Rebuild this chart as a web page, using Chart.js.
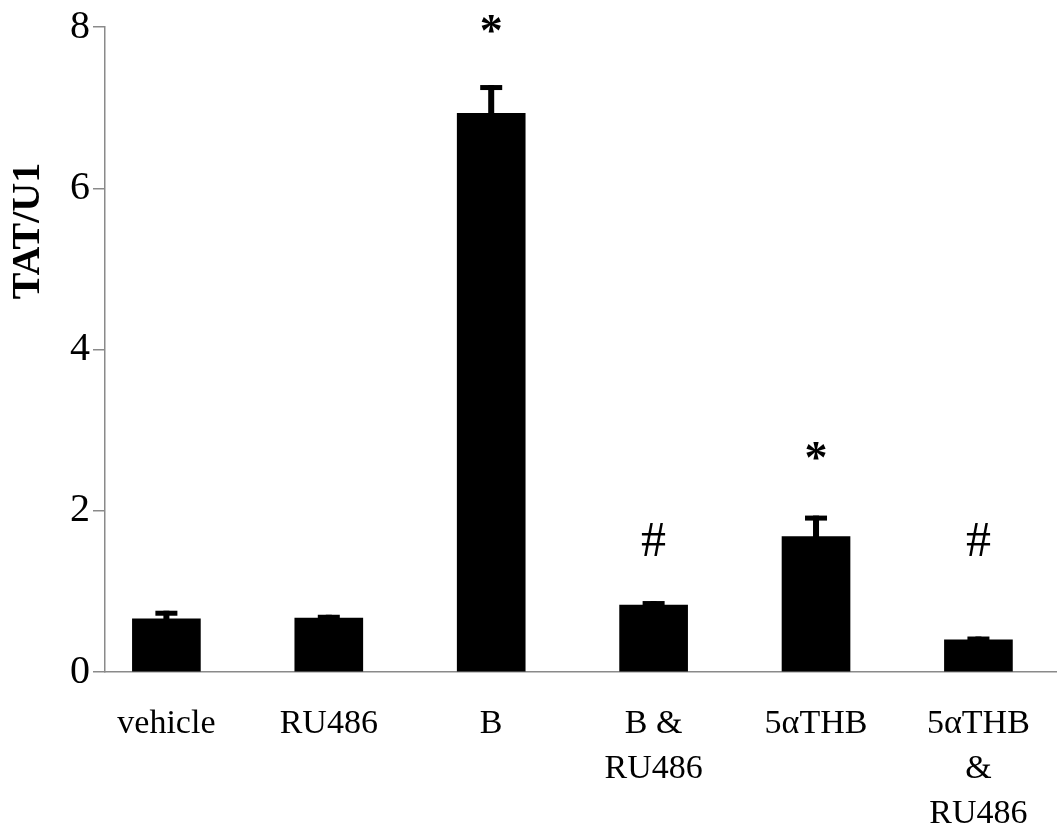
<!DOCTYPE html>
<html>
<head>
<meta charset="utf-8">
<script src="https://cdn.jsdelivr.net/npm/chart.js@4"></script>
<style>
  html, body { margin: 0; padding: 0; background: #fff; }
  #wrap { width: 1060px; height: 828px; position: relative; }
</style>
</head>
<body>
<div id="wrap"><canvas id="c"></canvas></div>
<script>
// ---- data ----
const categories = [
  ['vehicle'],
  ['RU486'],
  ['B'],
  ['B &', 'RU486'],
  ['5\u03B1THB'],
  ['5\u03B1THB', '&', 'RU486']
];
const values = [0.66, 0.67, 6.93, 0.83, 1.68, 0.40];
const errors = [0.10, 0.04, 0.35, 0.05, 0.26, 0.04];
const markers = ['', '', '*', '#', '*', '#'];
const markerValues = [null, null, 8.0, 1.6, 2.7, 1.6];
const yTicks = [0, 2, 4, 6, 8];
const yTitle = 'TAT/U1';

const AXIS = '#8a8a8a';
const SERIF = '"Liberation Serif", "Times New Roman", serif';

const errorBars = {
  id: 'errorBars',
  afterDatasetsDraw(chart) {
    const ctx = chart.ctx;
    const ys = chart.scales.y;
    const meta = chart.getDatasetMeta(0);
    ctx.save();
    ctx.fillStyle = '#000';
    meta.data.forEach((el, i) => {
      const top = ys.getPixelForValue(values[i] + errors[i]);
      const barTop = el.y;
      ctx.fillRect(el.x - 3, top, 6, barTop - top + 1);
      ctx.fillRect(el.x - 11, top, 22, 5);
    });
    ctx.restore();
  }
};

const annotations = {
  id: 'annotations',
  afterDatasetsDraw(chart) {
    const ctx = chart.ctx;
    const ys = chart.scales.y;
    const xs = chart.scales.x;
    ctx.save();
    ctx.fillStyle = '#000';
    ctx.textAlign = 'center';
    ctx.textBaseline = 'middle';
    markers.forEach((m, i) => {
      if (!m) return;
      const x = xs.getPixelForValue(i);
      const y = ys.getPixelForValue(markerValues[i]);
      if (m === '*') {
        ctx.font = 'bold 46px ' + SERIF;
        ctx.fillText(m, x, y + 7);
      } else {
        ctx.font = '50px ' + SERIF;
        ctx.fillText(m, x, y);
      }
    });
    ctx.translate(29, 231);
    ctx.rotate(-Math.PI / 2);
    ctx.font = 'bold 40px ' + SERIF;
    ctx.textBaseline = 'middle';
    ctx.fillText(yTitle, 0, 0);
    ctx.restore();
  }
};

new Chart(document.getElementById('c'), {
  type: 'bar',
  data: {
    datasets: [{
      data: values.map((v, i) => ({ x: i, y: v })),
      backgroundColor: '#000',
      borderWidth: 0,
      barThickness: 68
    }]
  },
  options: {
    responsive: true,
    maintainAspectRatio: false,
    animation: false,
    layout: { padding: { top: 25, right: 2, left: 0, bottom: 0 } },
    plugins: { legend: { display: false }, tooltip: { enabled: false } },
    scales: {
      x: {
        type: 'linear',
        offset: false,
        min: -0.378,
        max: 5.483,
        afterBuildTicks(scale) { scale.ticks = categories.map((_, i) => ({ value: i })); },
        afterFit(scale) { scale.height = 156; },
        grid: { display: false, drawTicks: false, offset: false },
        border: { display: true, color: AXIS, width: 1.5 },
        ticks: {
          autoSkip: false,
          maxRotation: 0,
          padding: 30,
          color: '#000',
          font: { family: SERIF, size: 34, lineHeight: 1.32 },
          callback: (v) => categories[v] || ''
        }
      },
      y: {
        min: 0,
        max: 8,
        afterBuildTicks(scale) { scale.ticks = yTicks.map(v => ({ value: v })); },
        afterFit(scale) { scale.width = 105; },
        grid: { display: true, drawOnChartArea: false, drawTicks: true, tickLength: 12, color: AXIS, lineWidth: 1.5 },
        border: { display: true, color: AXIS, width: 1.5 },
        ticks: {
          padding: 3,
          color: '#000',
          font: { family: SERIF, size: 40 }
        }
      }
    }
  },
  plugins: [errorBars, annotations]
});
</script>
</body>
</html>
